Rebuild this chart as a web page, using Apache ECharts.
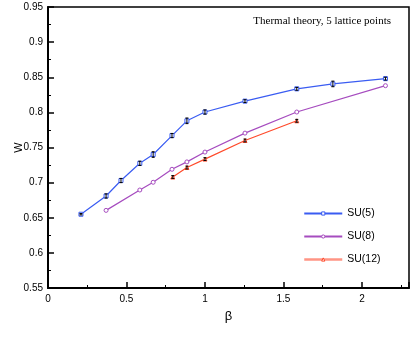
<!DOCTYPE html>
<html>
<head>
<meta charset="utf-8">
<script src="https://cdn.jsdelivr.net/npm/echarts@6/dist/echarts.min.js"></script>
<style>
  html, body { margin: 0; padding: 0; background: #fff; }
  #chart { width: 415px; height: 346px; }
</style>
</head>
<body>
<div id="chart"></div>
<script>
// values
const su5Beta = [0.21, 0.37, 0.465, 0.585, 0.67, 0.79, 0.885, 1.0, 1.255, 1.585, 1.815, 2.15]
const su5W = [0.655, 0.681, 0.703, 0.7275, 0.740, 0.767, 0.788, 0.8005, 0.816, 0.8335, 0.8405, 0.848]
const su5Err = [0.001, 0.003, 0.003, 0.003, 0.004, 0.003, 0.004, 0.003, 0.002, 0.002, 0.004, 0.002]

const su8Beta = [0.37, 0.585, 0.67, 0.79, 0.885, 1.0, 1.255, 1.585, 2.15]
const su8W = [0.6605, 0.6895, 0.7005, 0.719, 0.7295, 0.7435, 0.7705, 0.8005, 0.838]

const su12Beta = [0.795, 0.885, 1.0, 1.255, 1.585]
const su12W = [0.708, 0.7215, 0.7335, 0.760, 0.788]
const su12Err = [0.002, 0.002, 0.002, 0.002, 0.002]

function pairs(xs, ys) {
  return xs.map((x, i) => [x, ys[i]])
}

function errData(xs, ys, es) {
  return xs.map((x, i) => [x, ys[i] - es[i], ys[i] + es[i]])
}

function renderErr(params, api) {
  const lo = api.coord([api.value(0), api.value(1)])
  const hi = api.coord([api.value(0), api.value(2)])
  const w = 1.5
  const style = { stroke: '#000', lineWidth: 1 }
  return {
    type: 'group',
    children: [
      { type: 'line', shape: { x1: lo[0], y1: lo[1], x2: hi[0], y2: hi[1] }, style },
      { type: 'line', shape: { x1: lo[0] - w, y1: lo[1], x2: lo[0] + w, y2: lo[1] }, style },
      { type: 'line', shape: { x1: hi[0] - w, y1: hi[1], x2: hi[0] + w, y2: hi[1] }, style }
    ]
  }
}

const chart = echarts.init(document.getElementById('chart'))
const narrow = '"Liberation Sans Narrow", "Arial Narrow", "Liberation Sans", sans-serif'
const axisFont = { color: '#000', fontSize: 10, fontFamily: narrow }
const legendMark = c => ({ color: '#fff', borderColor: c, borderWidth: 1 })

chart.setOption({
  animation: false,
  backgroundColor: '#fff',
  title: {
    text: 'Thermal theory, 5 lattice points',
    right: 24,
    top: 16,
    padding: 0,
    textStyle: { fontFamily: 'Liberation Serif', fontWeight: 'normal', fontSize: 11, color: '#000' }
  },
  legend: {
    orient: 'vertical',
    left: 303,
    top: 208,
    padding: 0,
    itemWidth: 38,
    itemHeight: 4,
    itemGap: 12,
    textStyle: { fontFamily: narrow, fontSize: 10.5, color: '#000' },
    data: [
      { name: 'SU(5)', itemStyle: legendMark('#3a5cf2') },
      { name: 'SU(8)', itemStyle: legendMark('#a64cbf') },
      { name: 'SU(12)', itemStyle: legendMark('#ff4a2a'), lineStyle: { color: '#ff9585', width: 2.5 } }
    ]
  },
  grid: {
    left: 48,
    top: 7,
    right: 6,
    bottom: 58,
    containLabel: false,
    outerBoundsMode: 'none',
    show: true,
    borderColor: '#000',
    borderWidth: 1.5
  },
  xAxis: {
    type: 'value',
    min: 0,
    max: 2.3,
    interval: 0.5,
    name: 'β',
    nameLocation: 'middle',
    nameGap: 22,
    nameMoveOverlap: false,
    nameTextStyle: { fontFamily: 'Liberation Sans', fontSize: 13, color: '#000' },
    axisLine: { show: true, onZero: false, lineStyle: { color: '#000', width: 2 } },
    axisTick: { inside: true, length: 6, lineStyle: { color: '#000', width: 1.5 } },
    minorTick: { show: true, splitNumber: 2, length: 3, lineStyle: { color: '#000' } },
    splitLine: { show: false },
    axisLabel: Object.assign({ margin: 6, showMaxLabel: false }, axisFont)
  },
  yAxis: {
    type: 'value',
    min: 0.55,
    max: 0.95,
    interval: 0.05,
    name: 'W',
    nameLocation: 'middle',
    nameRotate: 90,
    nameGap: 24,
    nameMoveOverlap: false,
    nameTextStyle: { fontFamily: 'Liberation Sans', fontSize: 11, color: '#000' },
    axisLine: { show: true, onZero: false, lineStyle: { color: '#000', width: 2 } },
    axisTick: { inside: true, length: 6, lineStyle: { color: '#000', width: 1.5 } },
    minorTick: { show: true, splitNumber: 2, length: 3, lineStyle: { color: '#000' } },
    splitLine: { show: false },
    axisLabel: Object.assign({
      margin: 5,
      formatter: v => String(parseFloat(v.toFixed(2)))
    }, axisFont)
  },
  series: [
    {
      name: 'SU(5)',
      type: 'line',
      data: pairs(su5Beta, su5W),
      symbol: 'rect',
      symbolSize: 4,
      itemStyle: { color: '#fff', borderColor: '#3a5cf2', borderWidth: 1 },
      lineStyle: { color: '#3a5cf2', width: 1.2, type: 'solid' },
      color: '#3a5cf2',
      z: 3
    },
    {
      name: 'SU(8)',
      type: 'line',
      data: pairs(su8Beta, su8W),
      symbol: 'circle',
      symbolSize: 4,
      itemStyle: { color: '#fff', borderColor: '#a64cbf', borderWidth: 1 },
      lineStyle: { color: '#a64cbf', width: 1.2, type: 'solid' },
      color: '#a64cbf',
      z: 3
    },
    {
      name: 'SU(12)',
      type: 'line',
      data: pairs(su12Beta, su12W),
      symbol: 'triangle',
      symbolSize: 4,
      itemStyle: { color: '#fff', borderColor: '#ff4a2a', borderWidth: 1 },
      lineStyle: { color: '#ff4a2a', width: 1.2, type: 'solid' },
      color: '#ff4a2a',
      z: 3
    },
    {
      name: 'err5',
      type: 'custom',
      renderItem: renderErr,
      data: errData(su5Beta, su5W, su5Err),
      encode: { x: 0, y: [1, 2] },
      z: 4
    },
    {
      name: 'err12',
      type: 'custom',
      renderItem: renderErr,
      data: errData(su12Beta, su12W, su12Err),
      encode: { x: 0, y: [1, 2] },
      z: 4
    }
  ]
})
</script>
</body>
</html>
